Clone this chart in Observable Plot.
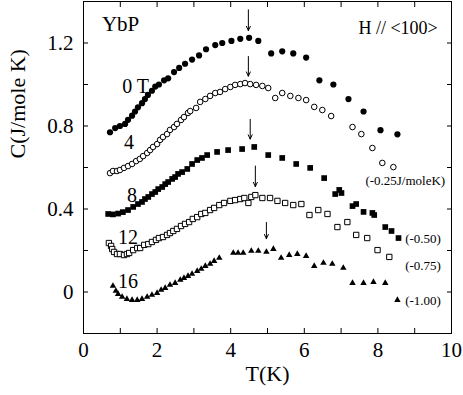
<!DOCTYPE html>
<html>
<head>
<meta charset="utf-8">
<script src="https://cdn.jsdelivr.net/npm/d3@7"></script>
<script src="https://cdn.jsdelivr.net/npm/@observablehq/plot@0.6"></script>
<style>
  html, body { margin: 0; padding: 0; background: #fff; }
  #chart svg { display: block; font-family: "Liberation Serif", "Times New Roman", serif; }
  #chart svg text { font-family: "Liberation Serif", "Times New Roman", serif; }
</style>
</head>
<body>
<div id="chart"></div>
<script>
// 0 T (filled circles)
const T0 = [0.72,0.86,0.99,1.13,1.21,1.32,1.40,1.48,1.59,1.67,1.75,1.86,1.95,2.05,2.19,2.30,2.46,2.60,2.76,2.95,3.14,3.33,3.58,3.77,4.02,4.26,4.50,4.75,5.10,5.40,5.70,6.05,6.41,6.79,7.20,7.61,8.07,8.53];
const C0 = [0.77,0.79,0.80,0.81,0.83,0.85,0.87,0.89,0.91,0.93,0.95,0.97,0.99,1.00,1.02,1.03,1.06,1.08,1.10,1.12,1.14,1.17,1.19,1.20,1.21,1.22,1.225,1.21,1.15,1.16,1.15,1.13,1.02,1.00,0.93,0.87,0.78,0.76];
// 4 T (open circles)
const T4 = [0.72,0.80,0.91,0.99,1.10,1.21,1.32,1.43,1.53,1.62,1.73,1.81,1.89,2.00,2.08,2.16,2.27,2.35,2.46,2.54,2.65,2.73,2.84,2.90,3.06,3.17,3.31,3.44,3.58,3.71,3.85,3.99,4.12,4.26,4.39,4.53,4.69,4.86,5.02,5.21,5.40,5.62,5.84,6.05,6.27,6.49,6.73,7.31,7.55,7.85,8.12,8.42];
const C4 = [0.573,0.583,0.583,0.588,0.598,0.607,0.617,0.631,0.641,0.655,0.670,0.684,0.699,0.713,0.733,0.747,0.761,0.781,0.795,0.810,0.829,0.843,0.863,0.872,0.887,0.916,0.930,0.945,0.959,0.964,0.978,0.988,0.998,1.002,1.007,1.002,0.998,0.993,0.983,0.935,0.959,0.945,0.935,0.925,0.892,0.877,0.848,0.795,0.761,0.694,0.622,0.602];
// 8 T (filled squares)
const T8 = [0.67,0.80,0.94,1.07,1.21,1.35,1.48,1.59,1.67,1.76,1.86,1.95,2.03,2.14,2.22,2.30,2.41,2.49,2.57,2.68,2.82,2.95,3.09,3.22,3.36,3.63,3.93,4.31,4.64,5.02,5.40,5.78,6.16,6.54,6.84,6.95,7.01,7.31,7.41,7.61,7.85,7.90,8.20,8.37,8.56];
const C8 = [0.376,0.374,0.378,0.385,0.395,0.410,0.424,0.434,0.448,0.458,0.472,0.482,0.496,0.506,0.520,0.530,0.545,0.554,0.569,0.578,0.593,0.617,0.636,0.646,0.660,0.675,0.684,0.689,0.699,0.660,0.646,0.617,0.598,0.549,0.472,0.492,0.477,0.414,0.424,0.386,0.381,0.371,0.313,0.294,0.260];
// 12 T (open squares)
const T12 = [0.69,0.75,0.78,0.83,0.91,0.99,1.10,1.18,1.24,1.35,1.46,1.54,1.65,1.76,1.86,1.97,2.05,2.16,2.27,2.35,2.44,2.54,2.65,2.76,2.87,2.97,3.09,3.20,3.31,3.44,3.55,3.69,3.82,3.99,4.12,4.26,4.37,4.48,4.56,4.67,4.86,5.07,5.27,5.48,5.70,5.92,6.14,6.38,6.63,6.90,7.17,7.41,7.71,7.99,8.31];
const C12 = [0.236,0.222,0.207,0.193,0.183,0.183,0.178,0.183,0.188,0.202,0.212,0.212,0.227,0.231,0.241,0.251,0.260,0.265,0.275,0.284,0.294,0.304,0.318,0.328,0.337,0.352,0.361,0.376,0.381,0.395,0.405,0.419,0.429,0.439,0.443,0.448,0.453,0.429,0.458,0.467,0.453,0.453,0.439,0.429,0.419,0.424,0.371,0.395,0.376,0.313,0.337,0.275,0.260,0.202,0.169];
// 16 T (filled triangles)
const T16 = [0.80,0.88,0.94,1.05,1.18,1.32,1.46,1.59,1.73,1.86,2.00,2.11,2.22,2.35,2.49,2.63,2.73,2.84,2.95,3.09,3.20,3.31,3.44,3.55,3.69,4.07,4.20,4.34,4.56,4.75,4.97,5.16,5.37,5.59,5.81,6.05,6.27,6.52,6.76,7.06,7.31,7.61,7.88,8.20,8.53];
const C16 = [0.029,0.005,-0.010,-0.024,-0.034,-0.039,-0.039,-0.034,-0.024,-0.014,-0.005,0.010,0.019,0.034,0.043,0.058,0.067,0.077,0.087,0.101,0.111,0.125,0.135,0.149,0.164,0.188,0.188,0.188,0.198,0.198,0.193,0.207,0.164,0.178,0.183,0.173,0.125,0.140,0.135,0.116,0.043,0.043,0.048,0.043,-0.039];

// peak arrows
const arrowT = [4.48, 4.48, 4.53, 4.67, 4.97];
const arrowFrom = [1.36, 1.135, 0.832, 0.607, 0.335];
const arrowTo = [1.26, 1.04, 0.737, 0.508, 0.257];

// field labels and offsets
const fieldLabels = ["0 T", "4", "8", "12", "16"];
const offsetLabels = ["(-0.25J/moleK)", "(-0.50)", "(-0.75)", "(-1.00)"];

const xTickLabels = [0, 2, 4, 6, 8, 10];
const yTickLabels = [0, 0.4, 0.8, 1.2];
const xMinor = d3.range(0, 11, 1);
const yMinor = [-0.2, 0, 0.2, 0.4, 0.6, 0.8, 1.0, 1.2, 1.4];

const FONT = '"Liberation Serif", "Times New Roman", serif';

const chart = Plot.plot({
  width: 463,
  height: 395,
  marginLeft: 83,
  marginRight: 12,
  marginTop: 1,
  marginBottom: 62,
  style: { fontFamily: FONT, fontSize: "21px", color: "black", background: "white", overflow: "visible" },
  x: { domain: [0, 10] },
  y: { domain: [-0.2, 1.4] },
  marks: [
    Plot.frame({ stroke: "black", strokeWidth: 1 }),
    // inward ticks on all four sides
    Plot.axisX({ anchor: "bottom", ticks: xMinor, tickSize: 5, dy: -5, tickFormat: () => "", label: null }),
    Plot.axisX({ anchor: "top", ticks: xMinor, tickSize: 5, dy: 5, tickFormat: () => "", label: null }),
    Plot.axisY({ anchor: "left", ticks: yMinor, tickSize: 5, dx: 5, tickFormat: () => "", label: null }),
    Plot.axisY({ anchor: "right", ticks: yMinor, tickSize: 5, dx: -5, tickFormat: () => "", label: null }),
    // tick labels
    Plot.axisX({ anchor: "bottom", ticks: xTickLabels, tickSize: 0, tickPadding: 9, tickFormat: d => String(d), label: null, fontSize: 21 }),
    Plot.axisY({ anchor: "left", ticks: yTickLabels, tickSize: 0, tickPadding: 10, tickFormat: d => d === 0 ? "0" : d.toFixed(1), label: null, fontSize: 21 }),
    // axis titles
    Plot.text(["C(J/mole K)"], { frameAnchor: "left", text: d => d, rotate: -90, dx: -66, dy: -9, fontSize: 22 }),
    Plot.text(["T(K)"], { frameAnchor: "bottom", text: d => d, dy: 47, fontSize: 22 }),
    // data
    Plot.dot(T0, { x: T0, y: C0, r: 3.1, fill: "black", stroke: "none" }),
    Plot.dot(T4, { x: T4, y: C4, r: 2.8, fill: "white", stroke: "black", strokeWidth: 1 }),
    Plot.dot(T8, { x: T8, y: C8, symbol: "square", r: 3.2, fill: "black", stroke: "none" }),
    Plot.dot(T12, { x: T12, y: C12, symbol: "square", r: 3.0, fill: "white", stroke: "black", strokeWidth: 1 }),
    Plot.dot(T16, { x: T16, y: C16, symbol: "triangle", r: 2.4, fill: "black", stroke: "none" }),
    // arrows
    Plot.arrow(arrowT, { x: arrowT, y1: arrowFrom, y2: arrowTo, stroke: "black", strokeWidth: 1, headLength: 7, headAngle: 50 }),
    // annotations
    Plot.text(["YbP"], { x: 0.5, y: 1.289, text: d => d, textAnchor: "start", fontSize: 21 }),
    Plot.text(["H // <100>"], { x: 7.47, y: 1.27, text: d => d, textAnchor: "start", fontSize: 18 }),
    Plot.text(fieldLabels, {
      x: [1.05, 1.10, 1.18, 0.94, 0.94],
      y: [0.99, 0.72, 0.465, 0.263, 0.05],
      text: d => d, textAnchor: "start", fontSize: 20
    }),
    Plot.text(offsetLabels, {
      x: [7.66, 8.74, 8.74, 8.74],
      y: [0.537, 0.258, 0.128, -0.041],
      text: d => d, textAnchor: "start", fontSize: 13
    })
  ]
});
document.getElementById("chart").appendChild(chart);
</script>
</body>
</html>
